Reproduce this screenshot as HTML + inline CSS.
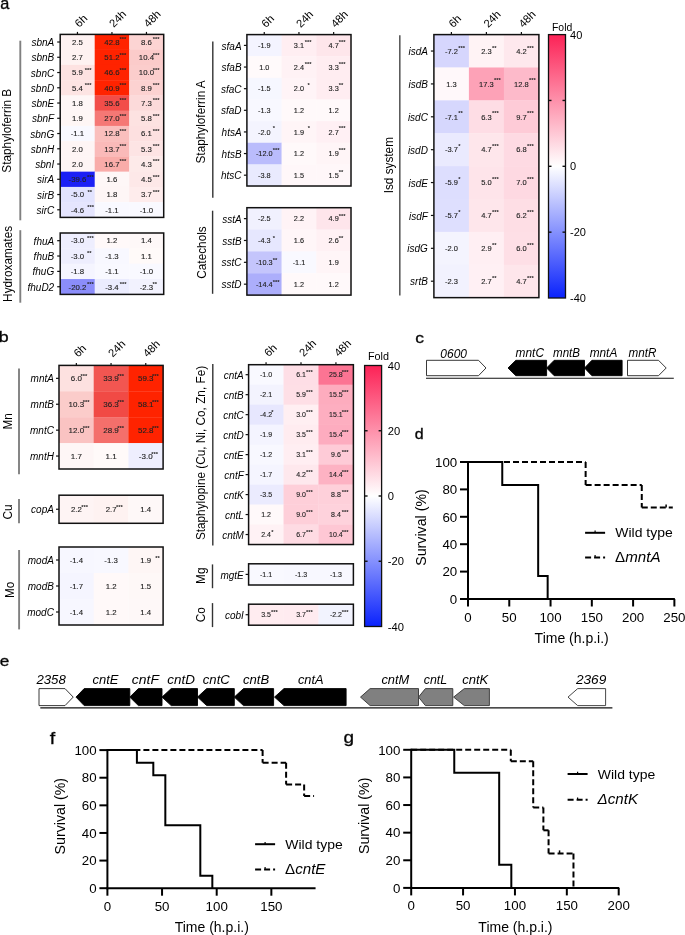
<!DOCTYPE html>
<html><head><meta charset="utf-8"><title>Figure</title>
<style>
html,body{margin:0;padding:0;background:#fff;}
body{width:685px;height:935px;overflow:hidden;}
svg{display:block;will-change:transform;font-family:"Liberation Sans", sans-serif;}
</style></head>
<body>
<svg width="685" height="935" viewBox="0 0 685 935">
<rect x="0" y="0" width="685" height="935" fill="#fff"/>
<text x="0" y="0" font-size="17" transform="translate(0.3 9) scale(0.96 1)" stroke="#1a1a1a" stroke-width="0.4">a</text>
<rect x="60.2" y="34.4" width="34.8" height="15.55" fill="#fef2f2" />
<rect x="94.7" y="34.4" width="34.8" height="15.55" fill="#ff2300" />
<rect x="129.2" y="34.4" width="34.8" height="15.55" fill="#fcd4d3" />
<rect x="60.2" y="49.65" width="34.8" height="15.55" fill="#fef2f1" />
<rect x="94.7" y="49.65" width="34.8" height="15.55" fill="#ff2300" />
<rect x="129.2" y="49.65" width="34.8" height="15.55" fill="#fbcbca" />
<rect x="60.2" y="64.9" width="34.8" height="15.55" fill="#fde2e1" />
<rect x="94.7" y="64.9" width="34.8" height="15.55" fill="#ff2300" />
<rect x="129.2" y="64.9" width="34.8" height="15.55" fill="#fbcdcc" />
<rect x="60.2" y="80.15" width="34.8" height="15.55" fill="#fde4e3" />
<rect x="94.7" y="80.15" width="34.8" height="15.55" fill="#ff2300" />
<rect x="129.2" y="80.15" width="34.8" height="15.55" fill="#fcd2d1" />
<rect x="60.2" y="95.4" width="34.8" height="15.55" fill="#fef6f6" />
<rect x="94.7" y="95.4" width="34.8" height="15.55" fill="#f24d49" />
<rect x="129.2" y="95.4" width="34.8" height="15.55" fill="#fcdada" />
<rect x="60.2" y="110.65" width="34.8" height="15.55" fill="#fef6f5" />
<rect x="94.7" y="110.65" width="34.8" height="15.55" fill="#f57875" />
<rect x="129.2" y="110.65" width="34.8" height="15.55" fill="#fde2e1" />
<rect x="60.2" y="125.9" width="34.8" height="15.55" fill="#f9f9ff" />
<rect x="94.7" y="125.9" width="34.8" height="15.55" fill="#fabfbd" />
<rect x="129.2" y="125.9" width="34.8" height="15.55" fill="#fde0e0" />
<rect x="60.2" y="141.15" width="34.8" height="15.55" fill="#fef5f5" />
<rect x="94.7" y="141.15" width="34.8" height="15.55" fill="#fabab9" />
<rect x="129.2" y="141.15" width="34.8" height="15.55" fill="#fde4e4" />
<rect x="60.2" y="156.4" width="34.8" height="15.55" fill="#fef5f5" />
<rect x="94.7" y="156.4" width="34.8" height="15.55" fill="#f9aca9" />
<rect x="129.2" y="156.4" width="34.8" height="15.55" fill="#fdeae9" />
<rect x="60.2" y="171.65" width="34.8" height="15.55" fill="#1b20f5" />
<rect x="94.7" y="171.65" width="34.8" height="15.55" fill="#fef7f7" />
<rect x="129.2" y="171.65" width="34.8" height="15.55" fill="#fde8e8" />
<rect x="60.2" y="186.9" width="34.8" height="15.55" fill="#e2e3fe" />
<rect x="94.7" y="186.9" width="34.8" height="15.55" fill="#fef6f6" />
<rect x="129.2" y="186.9" width="34.8" height="15.55" fill="#feecec" />
<rect x="60.2" y="202.15" width="34.8" height="15.55" fill="#e5e5fe" />
<rect x="94.7" y="202.15" width="34.8" height="15.55" fill="#f9f9ff" />
<rect x="129.2" y="202.15" width="34.8" height="15.55" fill="#f9f9ff" />
<text x="77.45" y="44.83" font-size="7.8" text-anchor="middle" stroke="#222" stroke-width="0.12" fill="#222">2.5</text>
<text x="111.95" y="44.83" font-size="7.8" text-anchor="middle" stroke="#222" stroke-width="0.12" fill="#222">42.8</text>
<text x="119.45" y="41.25" font-size="5.8" font-weight="bold" fill="#222">***</text>
<text x="146.45" y="44.83" font-size="7.8" text-anchor="middle" stroke="#222" stroke-width="0.12" fill="#222">8.6</text>
<text x="152.75" y="41.25" font-size="5.8" font-weight="bold" fill="#222">***</text>
<text x="54.2" y="46.12" font-size="10" text-anchor="end" font-style="italic">sbnA</text>
<line x1="57.2" y1="42.02" x2="60.2" y2="42.02" stroke="#111" stroke-width="1.2" />
<text x="77.45" y="60.08" font-size="7.8" text-anchor="middle" stroke="#222" stroke-width="0.12" fill="#222">2.7</text>
<text x="111.95" y="60.08" font-size="7.8" text-anchor="middle" stroke="#222" stroke-width="0.12" fill="#222">51.2</text>
<text x="119.45" y="56.5" font-size="5.8" font-weight="bold" fill="#222">***</text>
<text x="146.45" y="60.08" font-size="7.8" text-anchor="middle" stroke="#222" stroke-width="0.12" fill="#222">10.4</text>
<text x="152.75" y="56.5" font-size="5.8" font-weight="bold" fill="#222">***</text>
<text x="54.2" y="61.38" font-size="10" text-anchor="end" font-style="italic">sbnB</text>
<line x1="57.2" y1="57.27" x2="60.2" y2="57.27" stroke="#111" stroke-width="1.2" />
<text x="77.45" y="75.33" font-size="7.8" text-anchor="middle" stroke="#222" stroke-width="0.12" fill="#222">5.9</text>
<text x="84.75" y="71.75" font-size="5.8" font-weight="bold" fill="#222">***</text>
<text x="111.95" y="75.33" font-size="7.8" text-anchor="middle" stroke="#222" stroke-width="0.12" fill="#222">46.6</text>
<text x="119.45" y="71.75" font-size="5.8" font-weight="bold" fill="#222">***</text>
<text x="146.45" y="75.33" font-size="7.8" text-anchor="middle" stroke="#222" stroke-width="0.12" fill="#222">10.0</text>
<text x="152.75" y="71.75" font-size="5.8" font-weight="bold" fill="#222">***</text>
<text x="54.2" y="76.62" font-size="10" text-anchor="end" font-style="italic">sbnC</text>
<line x1="57.2" y1="72.53" x2="60.2" y2="72.53" stroke="#111" stroke-width="1.2" />
<text x="77.45" y="90.58" font-size="7.8" text-anchor="middle" stroke="#222" stroke-width="0.12" fill="#222">5.4</text>
<text x="84.75" y="87" font-size="5.8" font-weight="bold" fill="#222">***</text>
<text x="111.95" y="90.58" font-size="7.8" text-anchor="middle" stroke="#222" stroke-width="0.12" fill="#222">40.9</text>
<text x="119.45" y="87" font-size="5.8" font-weight="bold" fill="#222">***</text>
<text x="146.45" y="90.58" font-size="7.8" text-anchor="middle" stroke="#222" stroke-width="0.12" fill="#222">8.9</text>
<text x="152.75" y="87" font-size="5.8" font-weight="bold" fill="#222">***</text>
<text x="54.2" y="91.88" font-size="10" text-anchor="end" font-style="italic">sbnD</text>
<line x1="57.2" y1="87.78" x2="60.2" y2="87.78" stroke="#111" stroke-width="1.2" />
<text x="77.45" y="105.83" font-size="7.8" text-anchor="middle" stroke="#222" stroke-width="0.12" fill="#222">1.8</text>
<text x="111.95" y="105.83" font-size="7.8" text-anchor="middle" stroke="#222" stroke-width="0.12" fill="#222">35.6</text>
<text x="119.45" y="102.25" font-size="5.8" font-weight="bold" fill="#222">***</text>
<text x="146.45" y="105.83" font-size="7.8" text-anchor="middle" stroke="#222" stroke-width="0.12" fill="#222">7.3</text>
<text x="152.75" y="102.25" font-size="5.8" font-weight="bold" fill="#222">***</text>
<text x="54.2" y="107.12" font-size="10" text-anchor="end" font-style="italic">sbnE</text>
<line x1="57.2" y1="103.03" x2="60.2" y2="103.03" stroke="#111" stroke-width="1.2" />
<text x="77.45" y="121.08" font-size="7.8" text-anchor="middle" stroke="#222" stroke-width="0.12" fill="#222">1.9</text>
<text x="111.95" y="121.08" font-size="7.8" text-anchor="middle" stroke="#222" stroke-width="0.12" fill="#222">27.0</text>
<text x="119.45" y="117.5" font-size="5.8" font-weight="bold" fill="#222">***</text>
<text x="146.45" y="121.08" font-size="7.8" text-anchor="middle" stroke="#222" stroke-width="0.12" fill="#222">5.8</text>
<text x="152.75" y="117.5" font-size="5.8" font-weight="bold" fill="#222">***</text>
<text x="54.2" y="122.38" font-size="10" text-anchor="end" font-style="italic">sbnF</text>
<line x1="57.2" y1="118.28" x2="60.2" y2="118.28" stroke="#111" stroke-width="1.2" />
<text x="77.45" y="136.33" font-size="7.8" text-anchor="middle" stroke="#222" stroke-width="0.12" fill="#222">-1.1</text>
<text x="111.95" y="136.33" font-size="7.8" text-anchor="middle" stroke="#222" stroke-width="0.12" fill="#222">12.8</text>
<text x="119.45" y="132.75" font-size="5.8" font-weight="bold" fill="#222">***</text>
<text x="146.45" y="136.33" font-size="7.8" text-anchor="middle" stroke="#222" stroke-width="0.12" fill="#222">6.1</text>
<text x="152.75" y="132.75" font-size="5.8" font-weight="bold" fill="#222">***</text>
<text x="54.2" y="137.62" font-size="10" text-anchor="end" font-style="italic">sbnG</text>
<line x1="57.2" y1="133.53" x2="60.2" y2="133.53" stroke="#111" stroke-width="1.2" />
<text x="77.45" y="151.58" font-size="7.8" text-anchor="middle" stroke="#222" stroke-width="0.12" fill="#222">2.0</text>
<text x="111.95" y="151.58" font-size="7.8" text-anchor="middle" stroke="#222" stroke-width="0.12" fill="#222">13.7</text>
<text x="119.45" y="148" font-size="5.8" font-weight="bold" fill="#222">***</text>
<text x="146.45" y="151.58" font-size="7.8" text-anchor="middle" stroke="#222" stroke-width="0.12" fill="#222">5.3</text>
<text x="152.75" y="148" font-size="5.8" font-weight="bold" fill="#222">***</text>
<text x="54.2" y="152.88" font-size="10" text-anchor="end" font-style="italic">sbnH</text>
<line x1="57.2" y1="148.78" x2="60.2" y2="148.78" stroke="#111" stroke-width="1.2" />
<text x="77.45" y="166.83" font-size="7.8" text-anchor="middle" stroke="#222" stroke-width="0.12" fill="#222">2.0</text>
<text x="111.95" y="166.83" font-size="7.8" text-anchor="middle" stroke="#222" stroke-width="0.12" fill="#222">16.7</text>
<text x="119.45" y="163.25" font-size="5.8" font-weight="bold" fill="#222">***</text>
<text x="146.45" y="166.83" font-size="7.8" text-anchor="middle" stroke="#222" stroke-width="0.12" fill="#222">4.3</text>
<text x="152.75" y="163.25" font-size="5.8" font-weight="bold" fill="#222">***</text>
<text x="54.2" y="168.12" font-size="10" text-anchor="end" font-style="italic">sbnI</text>
<line x1="57.2" y1="164.03" x2="60.2" y2="164.03" stroke="#111" stroke-width="1.2" />
<text x="77.45" y="182.08" font-size="7.8" text-anchor="middle" stroke="#222" stroke-width="0.12" fill="#222">-39.6</text>
<text x="86.95" y="178.5" font-size="5.8" font-weight="bold" fill="#222">***</text>
<text x="111.95" y="182.08" font-size="7.8" text-anchor="middle" stroke="#222" stroke-width="0.12" fill="#222">1.6</text>
<text x="146.45" y="182.08" font-size="7.8" text-anchor="middle" stroke="#222" stroke-width="0.12" fill="#222">4.5</text>
<text x="152.75" y="178.5" font-size="5.8" font-weight="bold" fill="#222">***</text>
<text x="54.2" y="183.38" font-size="10" text-anchor="end" font-style="italic">sirA</text>
<line x1="57.2" y1="179.28" x2="60.2" y2="179.28" stroke="#111" stroke-width="1.2" />
<text x="77.45" y="197.33" font-size="7.8" text-anchor="middle" stroke="#222" stroke-width="0.12" fill="#222">-5.0</text>
<text x="87.45" y="193.75" font-size="5.8" font-weight="bold" fill="#222">**</text>
<text x="111.95" y="197.33" font-size="7.8" text-anchor="middle" stroke="#222" stroke-width="0.12" fill="#222">1.8</text>
<text x="146.45" y="197.33" font-size="7.8" text-anchor="middle" stroke="#222" stroke-width="0.12" fill="#222">3.7</text>
<text x="152.75" y="193.75" font-size="5.8" font-weight="bold" fill="#222">***</text>
<text x="54.2" y="198.62" font-size="10" text-anchor="end" font-style="italic">sirB</text>
<line x1="57.2" y1="194.53" x2="60.2" y2="194.53" stroke="#111" stroke-width="1.2" />
<text x="77.45" y="212.58" font-size="7.8" text-anchor="middle" stroke="#222" stroke-width="0.12" fill="#222">-4.6</text>
<text x="87.25" y="209" font-size="5.8" font-weight="bold" fill="#222">***</text>
<text x="111.95" y="212.58" font-size="7.8" text-anchor="middle" stroke="#222" stroke-width="0.12" fill="#222">-1.1</text>
<text x="146.45" y="212.58" font-size="7.8" text-anchor="middle" stroke="#222" stroke-width="0.12" fill="#222">-1.0</text>
<text x="54.2" y="213.88" font-size="10" text-anchor="end" font-style="italic">sirC</text>
<line x1="57.2" y1="209.78" x2="60.2" y2="209.78" stroke="#111" stroke-width="1.2" />
<rect x="60.2" y="34.4" width="103.5" height="183" fill="none" stroke="#111" stroke-width="1.5" />
<line x1="77.45" y1="31.9" x2="77.45" y2="34.4" stroke="#111" stroke-width="1.2" />
<text x="79.25" y="28" font-size="11.2" transform="rotate(-45 79.25 28)">6h</text>
<line x1="111.95" y1="31.9" x2="111.95" y2="34.4" stroke="#111" stroke-width="1.2" />
<text x="113.75" y="28" font-size="11.2" transform="rotate(-45 113.75 28)">24h</text>
<line x1="146.45" y1="31.9" x2="146.45" y2="34.4" stroke="#111" stroke-width="1.2" />
<text x="148.25" y="28" font-size="11.2" transform="rotate(-45 148.25 28)">48h</text>
<line x1="20.3" y1="40.7" x2="20.3" y2="220.3" stroke="#808080" stroke-width="1.9" />
<text x="0" y="0" font-size="11.8" transform="translate(11.3 130.7) scale(1.08 1) rotate(-90)" text-anchor="middle">Staphyloferrin B</text>
<rect x="60.2" y="233" width="34.8" height="15.65" fill="#eeeefe" />
<rect x="94.7" y="233" width="34.8" height="15.65" fill="#fff9f9" />
<rect x="129.2" y="233" width="34.8" height="15.65" fill="#fef8f8" />
<rect x="60.2" y="248.35" width="34.8" height="15.65" fill="#eeeefe" />
<rect x="94.7" y="248.35" width="34.8" height="15.65" fill="#f8f8ff" />
<rect x="129.2" y="248.35" width="34.8" height="15.65" fill="#fffaf9" />
<rect x="60.2" y="263.7" width="34.8" height="15.65" fill="#f5f5ff" />
<rect x="94.7" y="263.7" width="34.8" height="15.65" fill="#f9f9ff" />
<rect x="129.2" y="263.7" width="34.8" height="15.65" fill="#f9f9ff" />
<rect x="60.2" y="279.05" width="34.8" height="15.65" fill="#8b8dfa" />
<rect x="94.7" y="279.05" width="34.8" height="15.65" fill="#ebecfe" />
<rect x="129.2" y="279.05" width="34.8" height="15.65" fill="#f2f2fe" />
<text x="77.45" y="243.48" font-size="7.8" text-anchor="middle" stroke="#222" stroke-width="0.12" fill="#222">-3.0</text>
<text x="86.95" y="239.9" font-size="5.8" font-weight="bold" fill="#222">***</text>
<text x="111.95" y="243.48" font-size="7.8" text-anchor="middle" stroke="#222" stroke-width="0.12" fill="#222">1.2</text>
<text x="146.45" y="243.48" font-size="7.8" text-anchor="middle" stroke="#222" stroke-width="0.12" fill="#222">1.4</text>
<text x="54.2" y="244.78" font-size="10" text-anchor="end" font-style="italic">fhuA</text>
<line x1="57.2" y1="240.68" x2="60.2" y2="240.68" stroke="#111" stroke-width="1.2" />
<text x="77.45" y="258.83" font-size="7.8" text-anchor="middle" stroke="#222" stroke-width="0.12" fill="#222">-3.0</text>
<text x="86.95" y="255.25" font-size="5.8" font-weight="bold" fill="#222">**</text>
<text x="111.95" y="258.83" font-size="7.8" text-anchor="middle" stroke="#222" stroke-width="0.12" fill="#222">-1.3</text>
<text x="146.45" y="258.83" font-size="7.8" text-anchor="middle" stroke="#222" stroke-width="0.12" fill="#222">1.1</text>
<text x="54.2" y="260.12" font-size="10" text-anchor="end" font-style="italic">fhuB</text>
<line x1="57.2" y1="256.02" x2="60.2" y2="256.02" stroke="#111" stroke-width="1.2" />
<text x="77.45" y="274.18" font-size="7.8" text-anchor="middle" stroke="#222" stroke-width="0.12" fill="#222">-1.8</text>
<text x="111.95" y="274.18" font-size="7.8" text-anchor="middle" stroke="#222" stroke-width="0.12" fill="#222">-1.1</text>
<text x="146.45" y="274.18" font-size="7.8" text-anchor="middle" stroke="#222" stroke-width="0.12" fill="#222">-1.0</text>
<text x="54.2" y="275.48" font-size="10" text-anchor="end" font-style="italic">fhuG</text>
<line x1="57.2" y1="271.38" x2="60.2" y2="271.38" stroke="#111" stroke-width="1.2" />
<text x="77.45" y="289.53" font-size="7.8" text-anchor="middle" stroke="#222" stroke-width="0.12" fill="#222">-20.2</text>
<text x="86.95" y="285.95" font-size="5.8" font-weight="bold" fill="#222">***</text>
<text x="111.95" y="289.53" font-size="7.8" text-anchor="middle" stroke="#222" stroke-width="0.12" fill="#222">-3.4</text>
<text x="119.75" y="285.95" font-size="5.8" font-weight="bold" fill="#222">***</text>
<text x="146.45" y="289.53" font-size="7.8" text-anchor="middle" stroke="#222" stroke-width="0.12" fill="#222">-2.3</text>
<text x="152.45" y="285.95" font-size="5.8" font-weight="bold" fill="#222">**</text>
<text x="54.2" y="290.83" font-size="10" text-anchor="end" font-style="italic">fhuD2</text>
<line x1="57.2" y1="286.73" x2="60.2" y2="286.73" stroke="#111" stroke-width="1.2" />
<rect x="60.2" y="233" width="103.5" height="61.4" fill="none" stroke="#111" stroke-width="1.5" />
<line x1="20.3" y1="230.2" x2="20.3" y2="302.7" stroke="#808080" stroke-width="1.9" />
<text x="0" y="0" font-size="11.8" transform="translate(12.1 263.9) scale(1.08 1) rotate(-90)" text-anchor="middle">Hydroxamates</text>
<rect x="246.9" y="34.6" width="35" height="21.93" fill="#f4f4ff" />
<rect x="281.6" y="34.6" width="35" height="21.93" fill="#ffeef2" />
<rect x="316.3" y="34.6" width="35" height="21.93" fill="#fee6eb" />
<rect x="246.9" y="56.23" width="35" height="21.93" fill="#fffafb" />
<rect x="281.6" y="56.23" width="35" height="21.93" fill="#fff2f5" />
<rect x="316.3" y="56.23" width="35" height="21.93" fill="#ffedf1" />
<rect x="246.9" y="77.86" width="35" height="21.93" fill="#f6f7ff" />
<rect x="281.6" y="77.86" width="35" height="21.93" fill="#fff4f7" />
<rect x="316.3" y="77.86" width="35" height="21.93" fill="#ffedf1" />
<rect x="246.9" y="99.49" width="35" height="21.93" fill="#f8f8ff" />
<rect x="281.6" y="99.49" width="35" height="21.93" fill="#fff9fa" />
<rect x="316.3" y="99.49" width="35" height="21.93" fill="#fff9fa" />
<rect x="246.9" y="121.12" width="35" height="21.93" fill="#f4f4fe" />
<rect x="281.6" y="121.12" width="35" height="21.93" fill="#fff5f7" />
<rect x="316.3" y="121.12" width="35" height="21.93" fill="#fff0f4" />
<rect x="246.9" y="142.75" width="35" height="21.93" fill="#babcfc" />
<rect x="281.6" y="142.75" width="35" height="21.93" fill="#fff9fa" />
<rect x="316.3" y="142.75" width="35" height="21.93" fill="#fff5f7" />
<rect x="246.9" y="164.38" width="35" height="21.93" fill="#e9eafe" />
<rect x="281.6" y="164.38" width="35" height="21.93" fill="#fff7f9" />
<rect x="316.3" y="164.38" width="35" height="21.93" fill="#fff7f9" />
<text x="264.25" y="48.04" font-size="7.3" text-anchor="middle" stroke="#222" stroke-width="0.12" fill="#222">-1.9</text>
<text x="298.95" y="48.04" font-size="7.3" text-anchor="middle" stroke="#222" stroke-width="0.12" fill="#222">3.1</text>
<text x="304.85" y="43.91" font-size="5.8" font-weight="bold" fill="#222">***</text>
<text x="333.65" y="48.04" font-size="7.3" text-anchor="middle" stroke="#222" stroke-width="0.12" fill="#222">4.7</text>
<text x="338.65" y="43.91" font-size="5.8" font-weight="bold" fill="#222">***</text>
<text x="241.6" y="49.52" font-size="10" text-anchor="end" font-style="italic">sfaA</text>
<line x1="243.9" y1="45.41" x2="246.9" y2="45.41" stroke="#111" stroke-width="1.2" />
<text x="264.25" y="69.67" font-size="7.3" text-anchor="middle" stroke="#222" stroke-width="0.12" fill="#222">1.0</text>
<text x="298.95" y="69.67" font-size="7.3" text-anchor="middle" stroke="#222" stroke-width="0.12" fill="#222">2.4</text>
<text x="304.85" y="65.54" font-size="5.8" font-weight="bold" fill="#222">***</text>
<text x="333.65" y="69.67" font-size="7.3" text-anchor="middle" stroke="#222" stroke-width="0.12" fill="#222">3.3</text>
<text x="338.65" y="65.54" font-size="5.8" font-weight="bold" fill="#222">***</text>
<text x="241.6" y="71.14" font-size="10" text-anchor="end" font-style="italic">sfaB</text>
<line x1="243.9" y1="67.05" x2="246.9" y2="67.05" stroke="#111" stroke-width="1.2" />
<text x="264.25" y="91.3" font-size="7.3" text-anchor="middle" stroke="#222" stroke-width="0.12" fill="#222">-1.5</text>
<text x="298.95" y="91.3" font-size="7.3" text-anchor="middle" stroke="#222" stroke-width="0.12" fill="#222">2.0</text>
<text x="307.45" y="87.17" font-size="5.8" font-weight="bold" fill="#222">*</text>
<text x="333.65" y="91.3" font-size="7.3" text-anchor="middle" stroke="#222" stroke-width="0.12" fill="#222">3.3</text>
<text x="338.65" y="87.17" font-size="5.8" font-weight="bold" fill="#222">**</text>
<text x="241.6" y="92.77" font-size="10" text-anchor="end" font-style="italic">sfaC</text>
<line x1="243.9" y1="88.67" x2="246.9" y2="88.67" stroke="#111" stroke-width="1.2" />
<text x="264.25" y="112.93" font-size="7.3" text-anchor="middle" stroke="#222" stroke-width="0.12" fill="#222">-1.3</text>
<text x="298.95" y="112.93" font-size="7.3" text-anchor="middle" stroke="#222" stroke-width="0.12" fill="#222">1.2</text>
<text x="333.65" y="112.93" font-size="7.3" text-anchor="middle" stroke="#222" stroke-width="0.12" fill="#222">1.2</text>
<text x="241.6" y="114.41" font-size="10" text-anchor="end" font-style="italic">sfaD</text>
<line x1="243.9" y1="110.31" x2="246.9" y2="110.31" stroke="#111" stroke-width="1.2" />
<text x="264.25" y="134.56" font-size="7.3" text-anchor="middle" stroke="#222" stroke-width="0.12" fill="#222">-2.0</text>
<text x="272.65" y="130.43" font-size="5.8" font-weight="bold" fill="#222">*</text>
<text x="298.95" y="134.56" font-size="7.3" text-anchor="middle" stroke="#222" stroke-width="0.12" fill="#222">1.9</text>
<text x="307.65" y="130.43" font-size="5.8" font-weight="bold" fill="#222">*</text>
<text x="333.65" y="134.56" font-size="7.3" text-anchor="middle" stroke="#222" stroke-width="0.12" fill="#222">2.7</text>
<text x="338.65" y="130.43" font-size="5.8" font-weight="bold" fill="#222">***</text>
<text x="241.6" y="136.03" font-size="10" text-anchor="end" font-style="italic">htsA</text>
<line x1="243.9" y1="131.94" x2="246.9" y2="131.94" stroke="#111" stroke-width="1.2" />
<text x="264.25" y="156.19" font-size="7.3" text-anchor="middle" stroke="#222" stroke-width="0.12" fill="#222">-12.0</text>
<text x="272.65" y="152.06" font-size="5.8" font-weight="bold" fill="#222">***</text>
<text x="298.95" y="156.19" font-size="7.3" text-anchor="middle" stroke="#222" stroke-width="0.12" fill="#222">1.2</text>
<text x="333.65" y="156.19" font-size="7.3" text-anchor="middle" stroke="#222" stroke-width="0.12" fill="#222">1.9</text>
<text x="338.65" y="152.06" font-size="5.8" font-weight="bold" fill="#222">***</text>
<text x="241.6" y="157.66" font-size="10" text-anchor="end" font-style="italic">htsB</text>
<line x1="243.9" y1="153.56" x2="246.9" y2="153.56" stroke="#111" stroke-width="1.2" />
<text x="264.25" y="177.82" font-size="7.3" text-anchor="middle" stroke="#222" stroke-width="0.12" fill="#222">-3.8</text>
<text x="298.95" y="177.82" font-size="7.3" text-anchor="middle" stroke="#222" stroke-width="0.12" fill="#222">1.5</text>
<text x="333.65" y="177.82" font-size="7.3" text-anchor="middle" stroke="#222" stroke-width="0.12" fill="#222">1.5</text>
<text x="338.65" y="173.69" font-size="5.8" font-weight="bold" fill="#222">**</text>
<text x="241.6" y="179.29" font-size="10" text-anchor="end" font-style="italic">htsC</text>
<line x1="243.9" y1="175.19" x2="246.9" y2="175.19" stroke="#111" stroke-width="1.2" />
<rect x="246.9" y="34.6" width="104.1" height="151.41" fill="none" stroke="#111" stroke-width="1.5" />
<line x1="264.25" y1="32.1" x2="264.25" y2="34.6" stroke="#111" stroke-width="1.2" />
<text x="266.05" y="28.2" font-size="11.2" transform="rotate(-45 266.05 28.2)">6h</text>
<line x1="298.95" y1="32.1" x2="298.95" y2="34.6" stroke="#111" stroke-width="1.2" />
<text x="300.75" y="28.2" font-size="11.2" transform="rotate(-45 300.75 28.2)">24h</text>
<line x1="333.65" y1="32.1" x2="333.65" y2="34.6" stroke="#111" stroke-width="1.2" />
<text x="335.45" y="28.2" font-size="11.2" transform="rotate(-45 335.45 28.2)">48h</text>
<line x1="212.8" y1="41.6" x2="212.8" y2="197.7" stroke="#333" stroke-width="1.4" />
<text x="0" y="0" font-size="11.8" transform="translate(204.9 121.9) scale(1.08 1) rotate(-90)" text-anchor="middle">Staphyloferrin A</text>
<rect x="246.9" y="207.7" width="35" height="22.15" fill="#f1f1fe" />
<rect x="281.6" y="207.7" width="35" height="22.15" fill="#fff3f6" />
<rect x="316.3" y="207.7" width="35" height="22.15" fill="#fee5eb" />
<rect x="246.9" y="229.55" width="35" height="22.15" fill="#e6e7fe" />
<rect x="281.6" y="229.55" width="35" height="22.15" fill="#fff6f8" />
<rect x="316.3" y="229.55" width="35" height="22.15" fill="#fff1f4" />
<rect x="246.9" y="251.4" width="35" height="22.15" fill="#c4c5fc" />
<rect x="281.6" y="251.4" width="35" height="22.15" fill="#f9f9ff" />
<rect x="316.3" y="251.4" width="35" height="22.15" fill="#fff5f7" />
<rect x="246.9" y="273.25" width="35" height="22.15" fill="#acaefb" />
<rect x="281.6" y="273.25" width="35" height="22.15" fill="#fff9fa" />
<rect x="316.3" y="273.25" width="35" height="22.15" fill="#fff9fa" />
<text x="264.25" y="221.25" font-size="7.3" text-anchor="middle" stroke="#222" stroke-width="0.12" fill="#222">-2.5</text>
<text x="298.95" y="221.25" font-size="7.3" text-anchor="middle" stroke="#222" stroke-width="0.12" fill="#222">2.2</text>
<text x="333.65" y="221.25" font-size="7.3" text-anchor="middle" stroke="#222" stroke-width="0.12" fill="#222">4.9</text>
<text x="338.65" y="218.02" font-size="5.8" font-weight="bold" fill="#222">***</text>
<text x="241.6" y="222.72" font-size="10" text-anchor="end" font-style="italic">sstA</text>
<line x1="243.9" y1="218.62" x2="246.9" y2="218.62" stroke="#111" stroke-width="1.2" />
<text x="264.25" y="243.1" font-size="7.3" text-anchor="middle" stroke="#222" stroke-width="0.12" fill="#222">-4.3</text>
<text x="272.75" y="239.87" font-size="5.8" font-weight="bold" fill="#222">*</text>
<text x="298.95" y="243.1" font-size="7.3" text-anchor="middle" stroke="#222" stroke-width="0.12" fill="#222">1.6</text>
<text x="333.65" y="243.1" font-size="7.3" text-anchor="middle" stroke="#222" stroke-width="0.12" fill="#222">2.6</text>
<text x="338.65" y="239.87" font-size="5.8" font-weight="bold" fill="#222">**</text>
<text x="241.6" y="244.57" font-size="10" text-anchor="end" font-style="italic">sstB</text>
<line x1="243.9" y1="240.47" x2="246.9" y2="240.47" stroke="#111" stroke-width="1.2" />
<text x="264.25" y="264.95" font-size="7.3" text-anchor="middle" stroke="#222" stroke-width="0.12" fill="#222">-10.3</text>
<text x="272.75" y="261.72" font-size="5.8" font-weight="bold" fill="#222">**</text>
<text x="298.95" y="264.95" font-size="7.3" text-anchor="middle" stroke="#222" stroke-width="0.12" fill="#222">-1.1</text>
<text x="333.65" y="264.95" font-size="7.3" text-anchor="middle" stroke="#222" stroke-width="0.12" fill="#222">1.9</text>
<text x="241.6" y="266.43" font-size="10" text-anchor="end" font-style="italic">sstC</text>
<line x1="243.9" y1="262.32" x2="246.9" y2="262.32" stroke="#111" stroke-width="1.2" />
<text x="264.25" y="286.8" font-size="7.3" text-anchor="middle" stroke="#222" stroke-width="0.12" fill="#222">-14.4</text>
<text x="272.75" y="283.57" font-size="5.8" font-weight="bold" fill="#222">***</text>
<text x="298.95" y="286.8" font-size="7.3" text-anchor="middle" stroke="#222" stroke-width="0.12" fill="#222">1.2</text>
<text x="333.65" y="286.8" font-size="7.3" text-anchor="middle" stroke="#222" stroke-width="0.12" fill="#222">1.2</text>
<text x="241.6" y="288.28" font-size="10" text-anchor="end" font-style="italic">sstD</text>
<line x1="243.9" y1="284.18" x2="246.9" y2="284.18" stroke="#111" stroke-width="1.2" />
<rect x="246.9" y="207.7" width="104.1" height="87.4" fill="none" stroke="#111" stroke-width="1.5" />
<line x1="212.6" y1="210.7" x2="212.6" y2="293.8" stroke="#333" stroke-width="1.4" />
<text x="0" y="0" font-size="11.8" transform="translate(206 252.5) scale(1.08 1) rotate(-90)" text-anchor="middle">Catechols</text>
<rect x="433.9" y="34.6" width="35.3" height="33.18" fill="#d6d6fd" />
<rect x="468.9" y="34.6" width="35.3" height="33.18" fill="#fff3f5" />
<rect x="503.9" y="34.6" width="35.3" height="33.18" fill="#fee8ed" />
<rect x="433.9" y="67.48" width="35.3" height="33.18" fill="#fff8fa" />
<rect x="468.9" y="67.48" width="35.3" height="33.18" fill="#fda2b7" />
<rect x="503.9" y="67.48" width="35.3" height="33.18" fill="#fdbaca" />
<rect x="433.9" y="100.36" width="35.3" height="33.18" fill="#d6d7fd" />
<rect x="468.9" y="100.36" width="35.3" height="33.18" fill="#fedde5" />
<rect x="503.9" y="100.36" width="35.3" height="33.18" fill="#fecbd7" />
<rect x="433.9" y="133.24" width="35.3" height="33.18" fill="#eaeafe" />
<rect x="468.9" y="133.24" width="35.3" height="33.18" fill="#fee6eb" />
<rect x="503.9" y="133.24" width="35.3" height="33.18" fill="#fedae3" />
<rect x="433.9" y="166.12" width="35.3" height="33.18" fill="#dddefe" />
<rect x="468.9" y="166.12" width="35.3" height="33.18" fill="#fee4ea" />
<rect x="503.9" y="166.12" width="35.3" height="33.18" fill="#fed9e2" />
<rect x="433.9" y="199" width="35.3" height="33.18" fill="#dedffe" />
<rect x="468.9" y="199" width="35.3" height="33.18" fill="#fee6eb" />
<rect x="503.9" y="199" width="35.3" height="33.18" fill="#fedee5" />
<rect x="433.9" y="231.88" width="35.3" height="33.18" fill="#f4f4fe" />
<rect x="468.9" y="231.88" width="35.3" height="33.18" fill="#ffeff3" />
<rect x="503.9" y="231.88" width="35.3" height="33.18" fill="#fedfe6" />
<rect x="433.9" y="264.76" width="35.3" height="33.18" fill="#f2f2fe" />
<rect x="468.9" y="264.76" width="35.3" height="33.18" fill="#fff0f4" />
<rect x="503.9" y="264.76" width="35.3" height="33.18" fill="#fee6eb" />
<text x="451.4" y="53.74" font-size="7.5" text-anchor="middle" stroke="#222" stroke-width="0.12" fill="#222">-7.2</text>
<text x="458.26" y="49.57" font-size="5.8" font-weight="bold" fill="#222">***</text>
<text x="486.4" y="53.74" font-size="7.5" text-anchor="middle" stroke="#222" stroke-width="0.12" fill="#222">2.3</text>
<text x="492.01" y="49.57" font-size="5.8" font-weight="bold" fill="#222">**</text>
<text x="521.4" y="53.74" font-size="7.5" text-anchor="middle" stroke="#222" stroke-width="0.12" fill="#222">4.2</text>
<text x="527.01" y="49.57" font-size="5.8" font-weight="bold" fill="#222">***</text>
<text x="427.9" y="55.14" font-size="10" text-anchor="end" font-style="italic">isdA</text>
<line x1="430.9" y1="51.04" x2="433.9" y2="51.04" stroke="#111" stroke-width="1.2" />
<text x="451.4" y="86.62" font-size="7.5" text-anchor="middle" stroke="#222" stroke-width="0.12" fill="#222">1.3</text>
<text x="486.4" y="86.62" font-size="7.5" text-anchor="middle" stroke="#222" stroke-width="0.12" fill="#222">17.3</text>
<text x="494.1" y="82.45" font-size="5.8" font-weight="bold" fill="#222">***</text>
<text x="521.4" y="86.62" font-size="7.5" text-anchor="middle" stroke="#222" stroke-width="0.12" fill="#222">12.8</text>
<text x="529.1" y="82.45" font-size="5.8" font-weight="bold" fill="#222">***</text>
<text x="427.9" y="88.02" font-size="10" text-anchor="end" font-style="italic">isdB</text>
<line x1="430.9" y1="83.92" x2="433.9" y2="83.92" stroke="#111" stroke-width="1.2" />
<text x="451.4" y="119.5" font-size="7.5" text-anchor="middle" stroke="#222" stroke-width="0.12" fill="#222">-7.1</text>
<text x="458.26" y="115.33" font-size="5.8" font-weight="bold" fill="#222">**</text>
<text x="486.4" y="119.5" font-size="7.5" text-anchor="middle" stroke="#222" stroke-width="0.12" fill="#222">6.3</text>
<text x="492.01" y="115.33" font-size="5.8" font-weight="bold" fill="#222">***</text>
<text x="521.4" y="119.5" font-size="7.5" text-anchor="middle" stroke="#222" stroke-width="0.12" fill="#222">9.7</text>
<text x="527.01" y="115.33" font-size="5.8" font-weight="bold" fill="#222">***</text>
<text x="427.9" y="120.9" font-size="10" text-anchor="end" font-style="italic">isdC</text>
<line x1="430.9" y1="116.8" x2="433.9" y2="116.8" stroke="#111" stroke-width="1.2" />
<text x="451.4" y="152.38" font-size="7.5" text-anchor="middle" stroke="#222" stroke-width="0.12" fill="#222">-3.7</text>
<text x="458.26" y="148.21" font-size="5.8" font-weight="bold" fill="#222">*</text>
<text x="486.4" y="152.38" font-size="7.5" text-anchor="middle" stroke="#222" stroke-width="0.12" fill="#222">4.7</text>
<text x="492.01" y="148.21" font-size="5.8" font-weight="bold" fill="#222">***</text>
<text x="521.4" y="152.38" font-size="7.5" text-anchor="middle" stroke="#222" stroke-width="0.12" fill="#222">6.8</text>
<text x="527.01" y="148.21" font-size="5.8" font-weight="bold" fill="#222">***</text>
<text x="427.9" y="153.78" font-size="10" text-anchor="end" font-style="italic">isdD</text>
<line x1="430.9" y1="149.68" x2="433.9" y2="149.68" stroke="#111" stroke-width="1.2" />
<text x="451.4" y="185.26" font-size="7.5" text-anchor="middle" stroke="#222" stroke-width="0.12" fill="#222">-5.9</text>
<text x="458.26" y="181.09" font-size="5.8" font-weight="bold" fill="#222">*</text>
<text x="486.4" y="185.26" font-size="7.5" text-anchor="middle" stroke="#222" stroke-width="0.12" fill="#222">5.0</text>
<text x="492.01" y="181.09" font-size="5.8" font-weight="bold" fill="#222">***</text>
<text x="521.4" y="185.26" font-size="7.5" text-anchor="middle" stroke="#222" stroke-width="0.12" fill="#222">7.0</text>
<text x="527.01" y="181.09" font-size="5.8" font-weight="bold" fill="#222">***</text>
<text x="427.9" y="186.66" font-size="10" text-anchor="end" font-style="italic">isdE</text>
<line x1="430.9" y1="182.56" x2="433.9" y2="182.56" stroke="#111" stroke-width="1.2" />
<text x="451.4" y="218.14" font-size="7.5" text-anchor="middle" stroke="#222" stroke-width="0.12" fill="#222">-5.7</text>
<text x="458.26" y="213.97" font-size="5.8" font-weight="bold" fill="#222">*</text>
<text x="486.4" y="218.14" font-size="7.5" text-anchor="middle" stroke="#222" stroke-width="0.12" fill="#222">4.7</text>
<text x="492.01" y="213.97" font-size="5.8" font-weight="bold" fill="#222">***</text>
<text x="521.4" y="218.14" font-size="7.5" text-anchor="middle" stroke="#222" stroke-width="0.12" fill="#222">6.2</text>
<text x="527.01" y="213.97" font-size="5.8" font-weight="bold" fill="#222">***</text>
<text x="427.9" y="219.54" font-size="10" text-anchor="end" font-style="italic">isdF</text>
<line x1="430.9" y1="215.44" x2="433.9" y2="215.44" stroke="#111" stroke-width="1.2" />
<text x="451.4" y="251.02" font-size="7.5" text-anchor="middle" stroke="#222" stroke-width="0.12" fill="#222">-2.0</text>
<text x="486.4" y="251.02" font-size="7.5" text-anchor="middle" stroke="#222" stroke-width="0.12" fill="#222">2.9</text>
<text x="492.01" y="246.85" font-size="5.8" font-weight="bold" fill="#222">**</text>
<text x="521.4" y="251.02" font-size="7.5" text-anchor="middle" stroke="#222" stroke-width="0.12" fill="#222">6.0</text>
<text x="527.01" y="246.85" font-size="5.8" font-weight="bold" fill="#222">***</text>
<text x="427.9" y="252.42" font-size="10" text-anchor="end" font-style="italic">isdG</text>
<line x1="430.9" y1="248.32" x2="433.9" y2="248.32" stroke="#111" stroke-width="1.2" />
<text x="451.4" y="283.9" font-size="7.5" text-anchor="middle" stroke="#222" stroke-width="0.12" fill="#222">-2.3</text>
<text x="486.4" y="283.9" font-size="7.5" text-anchor="middle" stroke="#222" stroke-width="0.12" fill="#222">2.7</text>
<text x="492.01" y="279.73" font-size="5.8" font-weight="bold" fill="#222">**</text>
<text x="521.4" y="283.9" font-size="7.5" text-anchor="middle" stroke="#222" stroke-width="0.12" fill="#222">4.7</text>
<text x="527.01" y="279.73" font-size="5.8" font-weight="bold" fill="#222">***</text>
<text x="427.9" y="285.3" font-size="10" text-anchor="end" font-style="italic">srtB</text>
<line x1="430.9" y1="281.2" x2="433.9" y2="281.2" stroke="#111" stroke-width="1.2" />
<rect x="433.9" y="34.6" width="105" height="263.04" fill="none" stroke="#111" stroke-width="1.5" />
<line x1="451.4" y1="32.1" x2="451.4" y2="34.6" stroke="#111" stroke-width="1.2" />
<text x="453.2" y="28.2" font-size="11.2" transform="rotate(-45 453.2 28.2)">6h</text>
<line x1="486.4" y1="32.1" x2="486.4" y2="34.6" stroke="#111" stroke-width="1.2" />
<text x="488.2" y="28.2" font-size="11.2" transform="rotate(-45 488.2 28.2)">24h</text>
<line x1="521.4" y1="32.1" x2="521.4" y2="34.6" stroke="#111" stroke-width="1.2" />
<text x="523.2" y="28.2" font-size="11.2" transform="rotate(-45 523.2 28.2)">48h</text>
<line x1="399.8" y1="35.2" x2="399.8" y2="295.5" stroke="#5c5c5c" stroke-width="1.6" />
<text x="0" y="0" font-size="11.8" transform="translate(393.4 165.2) scale(1.08 1) rotate(-90)" text-anchor="middle">Isd system</text>
<defs><linearGradient id="cba" x1="0" y1="0" x2="0" y2="1"><stop offset="0" stop-color="#fc2256"/><stop offset="0.5" stop-color="#ffffff"/><stop offset="1" stop-color="#0a22fc"/></linearGradient></defs>
<rect x="548.5" y="34.6" width="17" height="263.4" fill="url(#cba)" stroke="#111" stroke-width="1.3" />
<text x="570.1" y="38.56" font-size="11">40</text>
<line x1="548.5" y1="100.45" x2="551.5" y2="100.45" stroke="#111" stroke-width="1.4" />
<line x1="562.5" y1="100.45" x2="565.5" y2="100.45" stroke="#111" stroke-width="1.4" />
<line x1="548.5" y1="166.3" x2="551.5" y2="166.3" stroke="#111" stroke-width="1.4" />
<line x1="562.5" y1="166.3" x2="565.5" y2="166.3" stroke="#111" stroke-width="1.4" />
<text x="570.1" y="170.26" font-size="11">0</text>
<line x1="548.5" y1="232.15" x2="551.5" y2="232.15" stroke="#111" stroke-width="1.4" />
<line x1="562.5" y1="232.15" x2="565.5" y2="232.15" stroke="#111" stroke-width="1.4" />
<text x="570.1" y="236.11" font-size="11">-20</text>
<text x="570.1" y="301.96" font-size="11">-40</text>
<text x="552" y="30.8" font-size="10.4">Fold</text>
<text x="0" y="0" font-size="15.5" transform="translate(-1.21 342.24) scale(1.15 1)" stroke="#1a1a1a" stroke-width="0.35">b</text>
<rect x="59" y="365.4" width="35" height="26.2" fill="#fde1e0" />
<rect x="93.7" y="365.4" width="35" height="26.2" fill="#f25651" />
<rect x="128.4" y="365.4" width="35" height="26.2" fill="#ff2300" />
<rect x="59" y="391.3" width="35" height="26.2" fill="#fbccca" />
<rect x="93.7" y="391.3" width="35" height="26.2" fill="#f14a45" />
<rect x="128.4" y="391.3" width="35" height="26.2" fill="#ff2300" />
<rect x="59" y="417.2" width="35" height="26.2" fill="#fac3c2" />
<rect x="93.7" y="417.2" width="35" height="26.2" fill="#f46f6b" />
<rect x="128.4" y="417.2" width="35" height="26.2" fill="#ff2300" />
<rect x="59" y="443.1" width="35" height="26.2" fill="#fef6f6" />
<rect x="93.7" y="443.1" width="35" height="26.2" fill="#fffaf9" />
<rect x="128.4" y="443.1" width="35" height="26.2" fill="#eeeefe" />
<text x="76.35" y="381.23" font-size="8" text-anchor="middle" stroke="#222" stroke-width="0.12" fill="#222">6.0</text>
<text x="80.41" y="378" font-size="5.8" font-weight="bold" fill="#222">***</text>
<text x="111.05" y="381.23" font-size="8" text-anchor="middle" stroke="#222" stroke-width="0.12" fill="#222">33.9</text>
<text x="117.33" y="378" font-size="5.8" font-weight="bold" fill="#222">***</text>
<text x="145.75" y="381.23" font-size="8" text-anchor="middle" stroke="#222" stroke-width="0.12" fill="#222">59.3</text>
<text x="152.03" y="378" font-size="5.8" font-weight="bold" fill="#222">***</text>
<text x="53.9" y="382.45" font-size="10" text-anchor="end" font-style="italic">mntA</text>
<line x1="56" y1="378.35" x2="59" y2="378.35" stroke="#111" stroke-width="1.2" />
<text x="76.35" y="407.13" font-size="8" text-anchor="middle" stroke="#222" stroke-width="0.12" fill="#222">10.3</text>
<text x="82.63" y="403.9" font-size="5.8" font-weight="bold" fill="#222">***</text>
<text x="111.05" y="407.13" font-size="8" text-anchor="middle" stroke="#222" stroke-width="0.12" fill="#222">36.3</text>
<text x="117.33" y="403.9" font-size="5.8" font-weight="bold" fill="#222">***</text>
<text x="145.75" y="407.13" font-size="8" text-anchor="middle" stroke="#222" stroke-width="0.12" fill="#222">58.1</text>
<text x="152.03" y="403.9" font-size="5.8" font-weight="bold" fill="#222">***</text>
<text x="53.9" y="408.35" font-size="10" text-anchor="end" font-style="italic">mntB</text>
<line x1="56" y1="404.25" x2="59" y2="404.25" stroke="#111" stroke-width="1.2" />
<text x="76.35" y="433.03" font-size="8" text-anchor="middle" stroke="#222" stroke-width="0.12" fill="#222">12.0</text>
<text x="82.63" y="429.8" font-size="5.8" font-weight="bold" fill="#222">***</text>
<text x="111.05" y="433.03" font-size="8" text-anchor="middle" stroke="#222" stroke-width="0.12" fill="#222">28.9</text>
<text x="117.33" y="429.8" font-size="5.8" font-weight="bold" fill="#222">***</text>
<text x="145.75" y="433.03" font-size="8" text-anchor="middle" stroke="#222" stroke-width="0.12" fill="#222">52.8</text>
<text x="152.03" y="429.8" font-size="5.8" font-weight="bold" fill="#222">***</text>
<text x="53.9" y="434.25" font-size="10" text-anchor="end" font-style="italic">mntC</text>
<line x1="56" y1="430.15" x2="59" y2="430.15" stroke="#111" stroke-width="1.2" />
<text x="76.35" y="458.93" font-size="8" text-anchor="middle" stroke="#222" stroke-width="0.12" fill="#222">1.7</text>
<text x="111.05" y="458.93" font-size="8" text-anchor="middle" stroke="#222" stroke-width="0.12" fill="#222">1.1</text>
<text x="145.75" y="458.93" font-size="8" text-anchor="middle" stroke="#222" stroke-width="0.12" fill="#222">-3.0</text>
<text x="151.14" y="455.7" font-size="5.8" font-weight="bold" fill="#222">***</text>
<text x="53.9" y="460.15" font-size="10" text-anchor="end" font-style="italic">mntH</text>
<line x1="56" y1="456.05" x2="59" y2="456.05" stroke="#111" stroke-width="1.2" />
<rect x="59" y="365.4" width="104.1" height="103.6" fill="none" stroke="#111" stroke-width="1.5" />
<line x1="76.35" y1="362.9" x2="76.35" y2="365.4" stroke="#111" stroke-width="1.2" />
<text x="78.15" y="357.8" font-size="11.2" transform="rotate(-45 78.15 357.8)">6h</text>
<line x1="111.05" y1="362.9" x2="111.05" y2="365.4" stroke="#111" stroke-width="1.2" />
<text x="112.85" y="357.8" font-size="11.2" transform="rotate(-45 112.85 357.8)">24h</text>
<line x1="145.75" y1="362.9" x2="145.75" y2="365.4" stroke="#111" stroke-width="1.2" />
<text x="147.55" y="357.8" font-size="11.2" transform="rotate(-45 147.55 357.8)">48h</text>
<line x1="19" y1="368.5" x2="19" y2="474.3" stroke="#808080" stroke-width="1.9" />
<text x="0" y="0" font-size="11.8" transform="translate(11.8 421.3) scale(1.08 1) rotate(-90)" text-anchor="middle">Mn</text>
<rect x="59" y="495.2" width="35" height="28.4" fill="#fef4f4" />
<rect x="93.7" y="495.2" width="35" height="28.4" fill="#fef2f1" />
<rect x="128.4" y="495.2" width="35" height="28.4" fill="#fef8f8" />
<text x="76.35" y="512.06" font-size="7.8" text-anchor="middle" stroke="#222" stroke-width="0.12" fill="#222">2.2</text>
<text x="81.27" y="508.97" font-size="5.8" font-weight="bold" fill="#222">***</text>
<text x="111.05" y="512.06" font-size="7.8" text-anchor="middle" stroke="#222" stroke-width="0.12" fill="#222">2.7</text>
<text x="115.97" y="508.97" font-size="5.8" font-weight="bold" fill="#222">***</text>
<text x="145.75" y="512.06" font-size="7.8" text-anchor="middle" stroke="#222" stroke-width="0.12" fill="#222">1.4</text>
<text x="53.9" y="513.35" font-size="10" text-anchor="end" font-style="italic">copA</text>
<line x1="56" y1="509.25" x2="59" y2="509.25" stroke="#111" stroke-width="1.2" />
<rect x="59" y="495.2" width="104.1" height="28.1" fill="none" stroke="#111" stroke-width="1.5" />
<line x1="19" y1="498.9" x2="19" y2="523.2" stroke="#808080" stroke-width="1.9" />
<text x="0" y="0" font-size="11.8" transform="translate(12.1 512) scale(1.08 1) rotate(-90)" text-anchor="middle">Cu</text>
<rect x="59" y="547" width="35" height="26.3" fill="#f7f7ff" />
<rect x="93.7" y="547" width="35" height="26.3" fill="#f8f8ff" />
<rect x="128.4" y="547" width="35" height="26.3" fill="#fef6f5" />
<rect x="59" y="573" width="35" height="26.3" fill="#f5f5ff" />
<rect x="93.7" y="573" width="35" height="26.3" fill="#fff9f9" />
<rect x="128.4" y="573" width="35" height="26.3" fill="#fef8f7" />
<rect x="59" y="599" width="35" height="26.3" fill="#f7f7ff" />
<rect x="93.7" y="599" width="35" height="26.3" fill="#fff9f9" />
<rect x="128.4" y="599" width="35" height="26.3" fill="#fef8f8" />
<text x="76.35" y="562.81" font-size="7.8" text-anchor="middle" stroke="#222" stroke-width="0.12" fill="#222">-1.4</text>
<text x="111.05" y="562.81" font-size="7.8" text-anchor="middle" stroke="#222" stroke-width="0.12" fill="#222">-1.3</text>
<text x="145.75" y="562.81" font-size="7.8" text-anchor="middle" stroke="#222" stroke-width="0.12" fill="#222">1.9</text>
<text x="155.17" y="559.72" font-size="5.8" font-weight="bold" fill="#222">**</text>
<text x="53.9" y="564.1" font-size="10" text-anchor="end" font-style="italic">modA</text>
<line x1="56" y1="560" x2="59" y2="560" stroke="#111" stroke-width="1.2" />
<text x="76.35" y="588.81" font-size="7.8" text-anchor="middle" stroke="#222" stroke-width="0.12" fill="#222">-1.7</text>
<text x="111.05" y="588.81" font-size="7.8" text-anchor="middle" stroke="#222" stroke-width="0.12" fill="#222">1.2</text>
<text x="145.75" y="588.81" font-size="7.8" text-anchor="middle" stroke="#222" stroke-width="0.12" fill="#222">1.5</text>
<text x="53.9" y="590.1" font-size="10" text-anchor="end" font-style="italic">modB</text>
<line x1="56" y1="586" x2="59" y2="586" stroke="#111" stroke-width="1.2" />
<text x="76.35" y="614.81" font-size="7.8" text-anchor="middle" stroke="#222" stroke-width="0.12" fill="#222">-1.4</text>
<text x="111.05" y="614.81" font-size="7.8" text-anchor="middle" stroke="#222" stroke-width="0.12" fill="#222">1.2</text>
<text x="145.75" y="614.81" font-size="7.8" text-anchor="middle" stroke="#222" stroke-width="0.12" fill="#222">1.4</text>
<text x="53.9" y="616.1" font-size="10" text-anchor="end" font-style="italic">modC</text>
<line x1="56" y1="612" x2="59" y2="612" stroke="#111" stroke-width="1.2" />
<rect x="59" y="547" width="104.1" height="78" fill="none" stroke="#111" stroke-width="1.5" />
<line x1="19.1" y1="550" x2="19.1" y2="629.4" stroke="#808080" stroke-width="1.9" />
<text x="0" y="0" font-size="11.8" transform="translate(14 589.9) scale(1.08 1) rotate(-90)" text-anchor="middle">Mo</text>
<rect x="248.6" y="364.7" width="35.23" height="20.28" fill="#f9f9ff" />
<rect x="283.53" y="364.7" width="35.23" height="20.28" fill="#fedee6" />
<rect x="318.46" y="364.7" width="35.23" height="20.28" fill="#fc7493" />
<rect x="248.6" y="384.68" width="35.23" height="20.28" fill="#f3f3fe" />
<rect x="283.53" y="384.68" width="35.23" height="20.28" fill="#fedfe6" />
<rect x="318.46" y="384.68" width="35.23" height="20.28" fill="#fdacbe" />
<rect x="248.6" y="404.66" width="35.23" height="20.28" fill="#e7e7fe" />
<rect x="283.53" y="404.66" width="35.23" height="20.28" fill="#ffeff2" />
<rect x="318.46" y="404.66" width="35.23" height="20.28" fill="#fdaec0" />
<rect x="248.6" y="424.64" width="35.23" height="20.28" fill="#f4f4ff" />
<rect x="283.53" y="424.64" width="35.23" height="20.28" fill="#ffecf0" />
<rect x="318.46" y="424.64" width="35.23" height="20.28" fill="#fdacbf" />
<rect x="248.6" y="444.62" width="35.23" height="20.28" fill="#f8f8ff" />
<rect x="283.53" y="444.62" width="35.23" height="20.28" fill="#ffeef2" />
<rect x="318.46" y="444.62" width="35.23" height="20.28" fill="#fecbd7" />
<rect x="248.6" y="464.6" width="35.23" height="20.28" fill="#f5f5ff" />
<rect x="283.53" y="464.6" width="35.23" height="20.28" fill="#fee8ed" />
<rect x="318.46" y="464.6" width="35.23" height="20.28" fill="#fdb2c3" />
<rect x="248.6" y="484.58" width="35.23" height="20.28" fill="#ebebfe" />
<rect x="283.53" y="484.58" width="35.23" height="20.28" fill="#fecfd9" />
<rect x="318.46" y="484.58" width="35.23" height="20.28" fill="#fed0da" />
<rect x="248.6" y="504.56" width="35.23" height="20.28" fill="#fff9fa" />
<rect x="283.53" y="504.56" width="35.23" height="20.28" fill="#fecfd9" />
<rect x="318.46" y="504.56" width="35.23" height="20.28" fill="#fed2dc" />
<rect x="248.6" y="524.54" width="35.23" height="20.28" fill="#fff2f5" />
<rect x="283.53" y="524.54" width="35.23" height="20.28" fill="#fedbe3" />
<rect x="318.46" y="524.54" width="35.23" height="20.28" fill="#fec7d4" />
<text x="266.06" y="377.21" font-size="7" text-anchor="middle" stroke="#222" stroke-width="0.12" fill="#222">-1.0</text>
<text x="301" y="377.21" font-size="7" text-anchor="middle" stroke="#222" stroke-width="0.12" fill="#222">6.1</text>
<text x="305.89" y="374.49" font-size="5.8" font-weight="bold" fill="#222">***</text>
<text x="335.93" y="377.21" font-size="7" text-anchor="middle" stroke="#222" stroke-width="0.12" fill="#222">25.8</text>
<text x="341.82" y="374.49" font-size="5.8" font-weight="bold" fill="#222">***</text>
<text x="243.8" y="378.79" font-size="10" text-anchor="end" font-style="italic">cntA</text>
<line x1="245.6" y1="374.69" x2="248.6" y2="374.69" stroke="#111" stroke-width="1.2" />
<text x="266.06" y="397.19" font-size="7" text-anchor="middle" stroke="#222" stroke-width="0.12" fill="#222">-2.1</text>
<text x="301" y="397.19" font-size="7" text-anchor="middle" stroke="#222" stroke-width="0.12" fill="#222">5.9</text>
<text x="305.89" y="394.47" font-size="5.8" font-weight="bold" fill="#222">***</text>
<text x="335.93" y="397.19" font-size="7" text-anchor="middle" stroke="#222" stroke-width="0.12" fill="#222">15.5</text>
<text x="341.82" y="394.47" font-size="5.8" font-weight="bold" fill="#222">***</text>
<text x="243.8" y="398.77" font-size="10" text-anchor="end" font-style="italic">cntB</text>
<line x1="245.6" y1="394.67" x2="248.6" y2="394.67" stroke="#111" stroke-width="1.2" />
<text x="266.06" y="417.17" font-size="7" text-anchor="middle" stroke="#222" stroke-width="0.12" fill="#222">-4.2</text>
<text x="271.17" y="414.45" font-size="5.8" font-weight="bold" fill="#222">*</text>
<text x="301" y="417.17" font-size="7" text-anchor="middle" stroke="#222" stroke-width="0.12" fill="#222">3.0</text>
<text x="305.89" y="414.45" font-size="5.8" font-weight="bold" fill="#222">***</text>
<text x="335.93" y="417.17" font-size="7" text-anchor="middle" stroke="#222" stroke-width="0.12" fill="#222">15.1</text>
<text x="341.82" y="414.45" font-size="5.8" font-weight="bold" fill="#222">***</text>
<text x="243.8" y="418.75" font-size="10" text-anchor="end" font-style="italic">cntC</text>
<line x1="245.6" y1="414.65" x2="248.6" y2="414.65" stroke="#111" stroke-width="1.2" />
<text x="266.06" y="437.15" font-size="7" text-anchor="middle" stroke="#222" stroke-width="0.12" fill="#222">-1.9</text>
<text x="301" y="437.15" font-size="7" text-anchor="middle" stroke="#222" stroke-width="0.12" fill="#222">3.5</text>
<text x="305.89" y="434.43" font-size="5.8" font-weight="bold" fill="#222">***</text>
<text x="335.93" y="437.15" font-size="7" text-anchor="middle" stroke="#222" stroke-width="0.12" fill="#222">15.4</text>
<text x="341.82" y="434.43" font-size="5.8" font-weight="bold" fill="#222">***</text>
<text x="243.8" y="438.73" font-size="10" text-anchor="end" font-style="italic">cntD</text>
<line x1="245.6" y1="434.63" x2="248.6" y2="434.63" stroke="#111" stroke-width="1.2" />
<text x="266.06" y="457.13" font-size="7" text-anchor="middle" stroke="#222" stroke-width="0.12" fill="#222">-1.2</text>
<text x="301" y="457.13" font-size="7" text-anchor="middle" stroke="#222" stroke-width="0.12" fill="#222">3.1</text>
<text x="305.89" y="454.41" font-size="5.8" font-weight="bold" fill="#222">***</text>
<text x="335.93" y="457.13" font-size="7" text-anchor="middle" stroke="#222" stroke-width="0.12" fill="#222">9.6</text>
<text x="341.82" y="454.41" font-size="5.8" font-weight="bold" fill="#222">***</text>
<text x="243.8" y="458.71" font-size="10" text-anchor="end" font-style="italic">cntE</text>
<line x1="245.6" y1="454.61" x2="248.6" y2="454.61" stroke="#111" stroke-width="1.2" />
<text x="266.06" y="477.11" font-size="7" text-anchor="middle" stroke="#222" stroke-width="0.12" fill="#222">-1.7</text>
<text x="301" y="477.11" font-size="7" text-anchor="middle" stroke="#222" stroke-width="0.12" fill="#222">4.2</text>
<text x="305.89" y="474.39" font-size="5.8" font-weight="bold" fill="#222">***</text>
<text x="335.93" y="477.11" font-size="7" text-anchor="middle" stroke="#222" stroke-width="0.12" fill="#222">14.4</text>
<text x="341.82" y="474.39" font-size="5.8" font-weight="bold" fill="#222">***</text>
<text x="243.8" y="478.69" font-size="10" text-anchor="end" font-style="italic">cntF</text>
<line x1="245.6" y1="474.59" x2="248.6" y2="474.59" stroke="#111" stroke-width="1.2" />
<text x="266.06" y="497.09" font-size="7" text-anchor="middle" stroke="#222" stroke-width="0.12" fill="#222">-3.5</text>
<text x="301" y="497.09" font-size="7" text-anchor="middle" stroke="#222" stroke-width="0.12" fill="#222">9.0</text>
<text x="305.89" y="494.37" font-size="5.8" font-weight="bold" fill="#222">***</text>
<text x="335.93" y="497.09" font-size="7" text-anchor="middle" stroke="#222" stroke-width="0.12" fill="#222">8.8</text>
<text x="341.82" y="494.37" font-size="5.8" font-weight="bold" fill="#222">***</text>
<text x="243.8" y="498.67" font-size="10" text-anchor="end" font-style="italic">cntK</text>
<line x1="245.6" y1="494.57" x2="248.6" y2="494.57" stroke="#111" stroke-width="1.2" />
<text x="266.06" y="517.07" font-size="7" text-anchor="middle" stroke="#222" stroke-width="0.12" fill="#222">1.2</text>
<text x="301" y="517.07" font-size="7" text-anchor="middle" stroke="#222" stroke-width="0.12" fill="#222">9.0</text>
<text x="305.89" y="514.35" font-size="5.8" font-weight="bold" fill="#222">***</text>
<text x="335.93" y="517.07" font-size="7" text-anchor="middle" stroke="#222" stroke-width="0.12" fill="#222">8.4</text>
<text x="341.82" y="514.35" font-size="5.8" font-weight="bold" fill="#222">***</text>
<text x="243.8" y="518.65" font-size="10" text-anchor="end" font-style="italic">cntL</text>
<line x1="245.6" y1="514.55" x2="248.6" y2="514.55" stroke="#111" stroke-width="1.2" />
<text x="266.06" y="537.05" font-size="7" text-anchor="middle" stroke="#222" stroke-width="0.12" fill="#222">2.4</text>
<text x="271.17" y="534.33" font-size="5.8" font-weight="bold" fill="#222">*</text>
<text x="301" y="537.05" font-size="7" text-anchor="middle" stroke="#222" stroke-width="0.12" fill="#222">6.7</text>
<text x="305.89" y="534.33" font-size="5.8" font-weight="bold" fill="#222">***</text>
<text x="335.93" y="537.05" font-size="7" text-anchor="middle" stroke="#222" stroke-width="0.12" fill="#222">10.4</text>
<text x="341.82" y="534.33" font-size="5.8" font-weight="bold" fill="#222">***</text>
<text x="243.8" y="538.63" font-size="10" text-anchor="end" font-style="italic">cntM</text>
<line x1="245.6" y1="534.53" x2="248.6" y2="534.53" stroke="#111" stroke-width="1.2" />
<rect x="248.6" y="364.7" width="104.79" height="179.82" fill="none" stroke="#111" stroke-width="1.5" />
<line x1="266.06" y1="362.2" x2="266.06" y2="364.7" stroke="#111" stroke-width="1.2" />
<text x="268.87" y="357.3" font-size="11.2" transform="rotate(-45 268.87 357.3)">6h</text>
<line x1="301" y1="362.2" x2="301" y2="364.7" stroke="#111" stroke-width="1.2" />
<text x="303.8" y="357.3" font-size="11.2" transform="rotate(-45 303.8 357.3)">24h</text>
<line x1="335.93" y1="362.2" x2="335.93" y2="364.7" stroke="#111" stroke-width="1.2" />
<text x="338.73" y="357.3" font-size="11.2" transform="rotate(-45 338.73 357.3)">48h</text>
<line x1="212.8" y1="364" x2="212.8" y2="545.6" stroke="#333" stroke-width="1.4" />
<text x="0" y="0" font-size="11.8" transform="translate(204.6 453) scale(1.08 1) rotate(-90)" text-anchor="middle">Staphylopine (Cu, Ni, Co, Zn, Fe)</text>
<rect x="248.6" y="563.8" width="35.23" height="21.5" fill="#f9f9ff" />
<rect x="283.53" y="563.8" width="35.23" height="21.5" fill="#f8f8ff" />
<rect x="318.46" y="563.8" width="35.23" height="21.5" fill="#f8f8ff" />
<text x="266.06" y="576.92" font-size="7" text-anchor="middle" stroke="#222" stroke-width="0.12" fill="#222">-1.1</text>
<text x="301" y="576.92" font-size="7" text-anchor="middle" stroke="#222" stroke-width="0.12" fill="#222">-1.3</text>
<text x="335.93" y="576.92" font-size="7" text-anchor="middle" stroke="#222" stroke-width="0.12" fill="#222">-1.3</text>
<text x="243.8" y="578.5" font-size="10" text-anchor="end" font-style="italic">mgtE</text>
<line x1="245.6" y1="574.4" x2="248.6" y2="574.4" stroke="#111" stroke-width="1.2" />
<rect x="248.6" y="563.8" width="104.79" height="21.2" fill="none" stroke="#111" stroke-width="1.5" />
<line x1="212.5" y1="564.4" x2="212.5" y2="588.2" stroke="#333" stroke-width="1.4" />
<text x="0" y="0" font-size="11.8" transform="translate(205.2 575.7) scale(1.08 1) rotate(-90)" text-anchor="middle">Mg</text>
<rect x="248.6" y="604.2" width="35.23" height="21.3" fill="#ffecf0" />
<rect x="283.53" y="604.2" width="35.23" height="21.3" fill="#ffebf0" />
<rect x="318.46" y="604.2" width="35.23" height="21.3" fill="#f2f3fe" />
<text x="266.06" y="617.22" font-size="7" text-anchor="middle" stroke="#222" stroke-width="0.12" fill="#222">3.5</text>
<text x="270.96" y="614.4" font-size="5.8" font-weight="bold" fill="#222">***</text>
<text x="301" y="617.22" font-size="7" text-anchor="middle" stroke="#222" stroke-width="0.12" fill="#222">3.7</text>
<text x="305.89" y="614.4" font-size="5.8" font-weight="bold" fill="#222">***</text>
<text x="335.93" y="617.22" font-size="7" text-anchor="middle" stroke="#222" stroke-width="0.12" fill="#222">-2.2</text>
<text x="341.82" y="614.4" font-size="5.8" font-weight="bold" fill="#222">***</text>
<text x="243.8" y="618.8" font-size="10" text-anchor="end" font-style="italic">cobI</text>
<line x1="245.6" y1="614.7" x2="248.6" y2="614.7" stroke="#111" stroke-width="1.2" />
<rect x="248.6" y="604.2" width="104.79" height="21" fill="none" stroke="#111" stroke-width="1.5" />
<line x1="212.5" y1="603.1" x2="212.5" y2="627.1" stroke="#333" stroke-width="1.4" />
<text x="0" y="0" font-size="11.8" transform="translate(205.3 614.8) scale(1.08 1) rotate(-90)" text-anchor="middle">Co</text>
<defs><linearGradient id="cbb" x1="0" y1="0" x2="0" y2="1"><stop offset="0" stop-color="#fc2256"/><stop offset="0.5" stop-color="#ffffff"/><stop offset="1" stop-color="#0a22fc"/></linearGradient></defs>
<rect x="364.6" y="365.5" width="17" height="261" fill="url(#cbb)" stroke="#111" stroke-width="1.3" />
<text x="387.8" y="369.53" font-size="11.2">40</text>
<line x1="364.6" y1="430.75" x2="367.6" y2="430.75" stroke="#111" stroke-width="1.4" />
<line x1="378.6" y1="430.75" x2="381.6" y2="430.75" stroke="#111" stroke-width="1.4" />
<text x="387.8" y="434.78" font-size="11.2">20</text>
<line x1="364.6" y1="496" x2="367.6" y2="496" stroke="#111" stroke-width="1.4" />
<line x1="378.6" y1="496" x2="381.6" y2="496" stroke="#111" stroke-width="1.4" />
<text x="387.8" y="500.03" font-size="11.2">0</text>
<line x1="364.6" y1="561.25" x2="367.6" y2="561.25" stroke="#111" stroke-width="1.4" />
<line x1="378.6" y1="561.25" x2="381.6" y2="561.25" stroke="#111" stroke-width="1.4" />
<text x="387.8" y="565.28" font-size="11.2">-20</text>
<text x="387.8" y="630.53" font-size="11.2">-40</text>
<text x="367.9" y="360.2" font-size="10.8">Fold</text>
<text x="0" y="0" font-size="14.55" transform="translate(415.35 342.95) scale(1.2 1)" stroke="#1a1a1a" stroke-width="0.35">c</text>
<line x1="426" y1="378.3" x2="673.8" y2="378.3" stroke="#111" stroke-width="1.1" />
<polygon points="426.5,360.3 478.5,360.3 486,368 478.5,375.7 426.5,375.7" fill="#fff" stroke="#222" stroke-width="0.9" stroke-linejoin="miter"/>
<polygon points="508,368 515.8,360.3 546.6,360.3 546.6,375.7 515.8,375.7" fill="#000" stroke="#000" stroke-width="0.9" stroke-linejoin="miter"/>
<polygon points="546.6,368 554.2,360.3 584.5,360.3 584.5,375.7 554.2,375.7" fill="#000" stroke="#000" stroke-width="0.9" stroke-linejoin="miter"/>
<polygon points="584.5,368 591.9,360.3 622.1,360.3 622.1,375.7 591.9,375.7" fill="#000" stroke="#000" stroke-width="0.9" stroke-linejoin="miter"/>
<polygon points="627.5,360.3 658.5,360.3 666.2,368 658.5,375.7 627.5,375.7" fill="#fff" stroke="#222" stroke-width="0.9" stroke-linejoin="miter"/>
<text x="440.3" y="358" font-size="12.3" font-style="italic" textLength="26.7" lengthAdjust="spacingAndGlyphs">0600</text>
<text x="515.6" y="356.8" font-size="12.3" font-style="italic" textLength="28.4" lengthAdjust="spacingAndGlyphs">mntC</text>
<text x="553" y="356.8" font-size="12.3" font-style="italic" textLength="27" lengthAdjust="spacingAndGlyphs">mntB</text>
<text x="589.7" y="356.8" font-size="12.3" font-style="italic" textLength="27.6" lengthAdjust="spacingAndGlyphs">mntA</text>
<text x="628.5" y="356.8" font-size="12.3" font-style="italic" textLength="27.9" lengthAdjust="spacingAndGlyphs">mntR</text>
<text x="0" y="0" font-size="14.9" transform="translate(-0.37 665.55) scale(1.15 1)" stroke="#1a1a1a" stroke-width="0.35">e</text>
<line x1="40.3" y1="707.9" x2="612.4" y2="707.9" stroke="#111" stroke-width="1.1" />
<polygon points="39,688.6 65,688.6 73.2,697.1 65,705.6 39,705.6" fill="#fff" stroke="#222" stroke-width="0.9" stroke-linejoin="miter"/>
<polygon points="76,697.1 84.2,688.6 129.8,688.6 129.8,705.6 84.2,705.6" fill="#000" stroke="#000" stroke-width="0.9" stroke-linejoin="miter"/>
<polygon points="129.8,697.1 138.4,688.6 162,688.6 162,705.6 138.4,705.6" fill="#000" stroke="#000" stroke-width="0.9" stroke-linejoin="miter"/>
<polygon points="162,697.1 171.2,688.6 197.5,688.6 197.5,705.6 171.2,705.6" fill="#000" stroke="#000" stroke-width="0.9" stroke-linejoin="miter"/>
<polygon points="197.5,697.1 206.7,688.6 234.3,688.6 234.3,705.6 206.7,705.6" fill="#000" stroke="#000" stroke-width="0.9" stroke-linejoin="miter"/>
<polygon points="234.3,697.1 243.5,688.6 273.6,688.6 273.6,705.6 243.5,705.6" fill="#000" stroke="#000" stroke-width="0.9" stroke-linejoin="miter"/>
<polygon points="274.5,697.1 284,688.6 346.1,688.6 346.1,705.6 284,705.6" fill="#000" stroke="#000" stroke-width="0.9" stroke-linejoin="miter"/>
<polygon points="360.5,697.1 370.1,688.6 418.5,688.6 418.5,705.6 370.1,705.6" fill="#808080" stroke="#333" stroke-width="0.9" stroke-linejoin="miter"/>
<polygon points="418.5,697.1 425.4,688.6 452.8,688.6 452.8,705.6 425.4,705.6" fill="#808080" stroke="#333" stroke-width="0.9" stroke-linejoin="miter"/>
<polygon points="453.6,697.1 464.3,688.6 489.4,688.6 489.4,705.6 464.3,705.6" fill="#808080" stroke="#333" stroke-width="0.9" stroke-linejoin="miter"/>
<polygon points="568,697.1 577.7,688.6 605.6,688.6 605.6,705.6 577.7,705.6" fill="#fff" stroke="#333" stroke-width="0.9" stroke-linejoin="miter"/>
<text x="36.4" y="683.8" font-size="12.6" font-style="italic" textLength="29.4" lengthAdjust="spacingAndGlyphs">2358</text>
<text x="92.5" y="683.8" font-size="12.6" font-style="italic" textLength="26" lengthAdjust="spacingAndGlyphs">cntE</text>
<text x="131.8" y="683.8" font-size="12.6" font-style="italic" textLength="27.1" lengthAdjust="spacingAndGlyphs">cntF</text>
<text x="167.3" y="683.8" font-size="12.6" font-style="italic" textLength="27.6" lengthAdjust="spacingAndGlyphs">cntD</text>
<text x="202.8" y="683.8" font-size="12.6" font-style="italic" textLength="27" lengthAdjust="spacingAndGlyphs">cntC</text>
<text x="243" y="683.8" font-size="12.6" font-style="italic" textLength="26.2" lengthAdjust="spacingAndGlyphs">cntB</text>
<text x="297.9" y="683.8" font-size="12.6" font-style="italic" textLength="25.7" lengthAdjust="spacingAndGlyphs">cntA</text>
<text x="381.4" y="683.8" font-size="12.6" font-style="italic" textLength="27.9" lengthAdjust="spacingAndGlyphs">cntM</text>
<text x="423.8" y="683.8" font-size="12.6" font-style="italic" textLength="23.4" lengthAdjust="spacingAndGlyphs">cntL</text>
<text x="462.2" y="683.8" font-size="12.6" font-style="italic" textLength="26.1" lengthAdjust="spacingAndGlyphs">cntK</text>
<text x="575.9" y="683.8" font-size="12.6" font-style="italic" textLength="30.4" lengthAdjust="spacingAndGlyphs">2369</text>
<text x="0" y="0" font-size="13.9" transform="translate(414.74 438.66) scale(1.15 1)" stroke="#1a1a1a" stroke-width="0.35">d</text>
<path d="M468 462H585.63" fill="none" stroke="#000" stroke-width="2" stroke-dasharray="6 3"/>
<path d="M585.63 462V484.88" fill="none" stroke="#000" stroke-width="2" stroke-dasharray="6 3"/>
<path d="M585.63 484.88H641.77" fill="none" stroke="#000" stroke-width="2" stroke-dasharray="6 3"/>
<path d="M641.77 484.88V507.62" fill="none" stroke="#000" stroke-width="2" stroke-dasharray="6 3"/>
<path d="M641.77 507.62H672.72" fill="none" stroke="#000" stroke-width="2" stroke-dasharray="6 3"/>
<path d="M672.72 507.62V507.62" fill="none" stroke="#000" stroke-width="2" stroke-dasharray="6 3"/>
<line x1="666.12" y1="507.62" x2="666.12" y2="504.62" stroke="#000" stroke-width="1.5" />
<path d="M468 462 H502.26 V484.88 H538.17 V576.12 H547.66 V599" fill="none" stroke="#000" stroke-width="2" stroke-linejoin="miter"/>
<line x1="468" y1="461" x2="468" y2="600" stroke="#000" stroke-width="2" />
<line x1="467" y1="599" x2="674.88" y2="599" stroke="#000" stroke-width="2" />
<line x1="460" y1="599" x2="468" y2="599" stroke="#000" stroke-width="2" />
<text x="457.2" y="603.7" font-size="13.3" text-anchor="end">0</text>
<line x1="460" y1="571.6" x2="468" y2="571.6" stroke="#000" stroke-width="2" />
<text x="457.2" y="576.3" font-size="13.3" text-anchor="end">20</text>
<line x1="460" y1="544.2" x2="468" y2="544.2" stroke="#000" stroke-width="2" />
<text x="457.2" y="548.9" font-size="13.3" text-anchor="end">40</text>
<line x1="460" y1="516.8" x2="468" y2="516.8" stroke="#000" stroke-width="2" />
<text x="457.2" y="521.5" font-size="13.3" text-anchor="end">60</text>
<line x1="460" y1="489.4" x2="468" y2="489.4" stroke="#000" stroke-width="2" />
<text x="457.2" y="494.1" font-size="13.3" text-anchor="end">80</text>
<line x1="460" y1="462" x2="468" y2="462" stroke="#000" stroke-width="2" />
<text x="457.2" y="466.7" font-size="13.3" text-anchor="end">100</text>
<line x1="468" y1="599" x2="468" y2="606.5" stroke="#000" stroke-width="2" />
<text x="468" y="621.5" font-size="13.3" text-anchor="middle">0</text>
<line x1="509.27" y1="599" x2="509.27" y2="606.5" stroke="#000" stroke-width="2" />
<text x="509.27" y="621.5" font-size="13.3" text-anchor="middle">50</text>
<line x1="550.55" y1="599" x2="550.55" y2="606.5" stroke="#000" stroke-width="2" />
<text x="550.55" y="621.5" font-size="13.3" text-anchor="middle">100</text>
<line x1="591.83" y1="599" x2="591.83" y2="606.5" stroke="#000" stroke-width="2" />
<text x="591.83" y="621.5" font-size="13.3" text-anchor="middle">150</text>
<line x1="633.1" y1="599" x2="633.1" y2="606.5" stroke="#000" stroke-width="2" />
<text x="633.1" y="621.5" font-size="13.3" text-anchor="middle">200</text>
<line x1="674.38" y1="599" x2="674.38" y2="606.5" stroke="#000" stroke-width="2" />
<text x="674.38" y="621.5" font-size="13.3" text-anchor="middle">250</text>
<text x="425.8" y="527.5" font-size="14.2" text-anchor="middle" transform="rotate(-90 425.8 527.5)">Survival (%)</text>
<text x="571.69" y="643" font-size="14" text-anchor="middle">Time (h.p.i.)</text>
<line x1="585.1" y1="532.8" x2="605.1" y2="532.8" stroke="#000" stroke-width="2" />
<line x1="595.1" y1="530.5" x2="595.1" y2="532.8" stroke="#000" stroke-width="1.2" />
<line x1="585.1" y1="557.4" x2="605.1" y2="557.4" stroke="#000" stroke-width="2" stroke-dasharray="6 3"/>
<line x1="595.1" y1="555.1" x2="595.1" y2="557.4" stroke="#000" stroke-width="1.2" />
<text x="0" y="0" font-size="13.3" transform="translate(615.3 537.3) scale(1.05 1)">Wild type</text>
<text x="0" y="0" font-size="14" transform="translate(615.1 562) scale(1.08 1)"><tspan>Δ</tspan><tspan font-style="italic">mntA</tspan></text>
<text x="0" y="0" font-size="16.3" transform="translate(49.66 743.5) scale(1.2 1)" stroke="#1a1a1a" stroke-width="0.35">f</text>
<path d="M107.4 750.1H262.61" fill="none" stroke="#000" stroke-width="2" stroke-dasharray="6 3"/>
<path d="M262.61 750.1V762.67" fill="none" stroke="#000" stroke-width="2" stroke-dasharray="6 3"/>
<path d="M262.61 762.67H286.11" fill="none" stroke="#000" stroke-width="2" stroke-dasharray="6 3"/>
<path d="M286.11 762.67V784.62" fill="none" stroke="#000" stroke-width="2" stroke-dasharray="6 3"/>
<path d="M286.11 784.62H304.14" fill="none" stroke="#000" stroke-width="2" stroke-dasharray="6 3"/>
<path d="M304.14 784.62V796.09" fill="none" stroke="#000" stroke-width="2" stroke-dasharray="6 3"/>
<path d="M304.14 796.09H313.98" fill="none" stroke="#000" stroke-width="2" stroke-dasharray="6 3"/>
<path d="M313.98 796.09V796.09" fill="none" stroke="#000" stroke-width="2" stroke-dasharray="6 3"/>
<path d="M107.4 750.1 H136.91 V762.67 H153.31 V775.23 H165.33 V825.36 H200.31 V875.63 H212.33 V888.2" fill="none" stroke="#000" stroke-width="2" stroke-linejoin="miter"/>
<line x1="107.4" y1="749.1" x2="107.4" y2="889.2" stroke="#000" stroke-width="2" />
<line x1="106.4" y1="888.2" x2="315.57" y2="888.2" stroke="#000" stroke-width="2" />
<line x1="99.4" y1="888.2" x2="107.4" y2="888.2" stroke="#000" stroke-width="2" />
<text x="96.6" y="892.9" font-size="13.3" text-anchor="end">0</text>
<line x1="99.4" y1="860.58" x2="107.4" y2="860.58" stroke="#000" stroke-width="2" />
<text x="96.6" y="865.28" font-size="13.3" text-anchor="end">20</text>
<line x1="99.4" y1="832.96" x2="107.4" y2="832.96" stroke="#000" stroke-width="2" />
<text x="96.6" y="837.66" font-size="13.3" text-anchor="end">40</text>
<line x1="99.4" y1="805.34" x2="107.4" y2="805.34" stroke="#000" stroke-width="2" />
<text x="96.6" y="810.04" font-size="13.3" text-anchor="end">60</text>
<line x1="99.4" y1="777.72" x2="107.4" y2="777.72" stroke="#000" stroke-width="2" />
<text x="96.6" y="782.42" font-size="13.3" text-anchor="end">80</text>
<line x1="99.4" y1="750.1" x2="107.4" y2="750.1" stroke="#000" stroke-width="2" />
<text x="96.6" y="754.8" font-size="13.3" text-anchor="end">100</text>
<line x1="107.4" y1="888.2" x2="107.4" y2="895.7" stroke="#000" stroke-width="2" />
<text x="107.4" y="910.7" font-size="13.3" text-anchor="middle">0</text>
<line x1="162.05" y1="888.2" x2="162.05" y2="895.7" stroke="#000" stroke-width="2" />
<text x="162.05" y="910.7" font-size="13.3" text-anchor="middle">50</text>
<line x1="216.7" y1="888.2" x2="216.7" y2="895.7" stroke="#000" stroke-width="2" />
<text x="216.7" y="910.7" font-size="13.3" text-anchor="middle">100</text>
<line x1="271.35" y1="888.2" x2="271.35" y2="895.7" stroke="#000" stroke-width="2" />
<text x="271.35" y="910.7" font-size="13.3" text-anchor="middle">150</text>
<text x="65.2" y="816.15" font-size="14.2" text-anchor="middle" transform="rotate(-90 65.2 816.15)">Survival (%)</text>
<text x="211.74" y="932.2" font-size="14" text-anchor="middle">Time (h.p.i.)</text>
<line x1="255.1" y1="844.2" x2="275.1" y2="844.2" stroke="#000" stroke-width="2" />
<line x1="265.1" y1="841.9" x2="265.1" y2="844.2" stroke="#000" stroke-width="1.2" />
<line x1="255.1" y1="869.4" x2="275.1" y2="869.4" stroke="#000" stroke-width="2" stroke-dasharray="6 3"/>
<line x1="265.1" y1="867.1" x2="265.1" y2="869.4" stroke="#000" stroke-width="1.2" />
<text x="0" y="0" font-size="13.3" transform="translate(285.3 848.7) scale(1.05 1)">Wild type</text>
<text x="0" y="0" font-size="14" transform="translate(285.1 874) scale(1.08 1)"><tspan>Δ</tspan><tspan font-style="italic">cntE</tspan></text>
<text x="0" y="0" font-size="16.5" transform="translate(343.44 742.93) scale(1.15 1)" stroke="#1a1a1a" stroke-width="0.35">g</text>
<path d="M411.2 749.8H510.8" fill="none" stroke="#000" stroke-width="2" stroke-dasharray="6 3"/>
<path d="M510.8 749.8V761.26" fill="none" stroke="#000" stroke-width="2" stroke-dasharray="6 3"/>
<path d="M510.8 761.26H533.21" fill="none" stroke="#000" stroke-width="2" stroke-dasharray="6 3"/>
<path d="M533.21 761.26V807.39" fill="none" stroke="#000" stroke-width="2" stroke-dasharray="6 3"/>
<path d="M533.21 807.39H543.38" fill="none" stroke="#000" stroke-width="2" stroke-dasharray="6 3"/>
<path d="M543.38 807.39V830.31" fill="none" stroke="#000" stroke-width="2" stroke-dasharray="6 3"/>
<path d="M543.38 830.31H548.57" fill="none" stroke="#000" stroke-width="2" stroke-dasharray="6 3"/>
<path d="M548.57 830.31V853.38" fill="none" stroke="#000" stroke-width="2" stroke-dasharray="6 3"/>
<path d="M548.57 853.38H573.47" fill="none" stroke="#000" stroke-width="2" stroke-dasharray="6 3"/>
<path d="M573.47 853.38V887.9" fill="none" stroke="#000" stroke-width="2" stroke-dasharray="6 3"/>
<line x1="559.56" y1="853.38" x2="559.56" y2="850.38" stroke="#000" stroke-width="1.5" />
<path d="M411.2 749.8 H454.26 V772.86 H499.18 V864.84 H511.32 V887.9" fill="none" stroke="#000" stroke-width="2" stroke-linejoin="miter"/>
<line x1="411.2" y1="748.8" x2="411.2" y2="888.9" stroke="#000" stroke-width="2" />
<line x1="410.2" y1="887.9" x2="619.2" y2="887.9" stroke="#000" stroke-width="2" />
<line x1="403.2" y1="887.9" x2="411.2" y2="887.9" stroke="#000" stroke-width="2" />
<text x="400.4" y="892.6" font-size="13.3" text-anchor="end">0</text>
<line x1="403.2" y1="860.28" x2="411.2" y2="860.28" stroke="#000" stroke-width="2" />
<text x="400.4" y="864.98" font-size="13.3" text-anchor="end">20</text>
<line x1="403.2" y1="832.66" x2="411.2" y2="832.66" stroke="#000" stroke-width="2" />
<text x="400.4" y="837.36" font-size="13.3" text-anchor="end">40</text>
<line x1="403.2" y1="805.04" x2="411.2" y2="805.04" stroke="#000" stroke-width="2" />
<text x="400.4" y="809.74" font-size="13.3" text-anchor="end">60</text>
<line x1="403.2" y1="777.42" x2="411.2" y2="777.42" stroke="#000" stroke-width="2" />
<text x="400.4" y="782.12" font-size="13.3" text-anchor="end">80</text>
<line x1="403.2" y1="749.8" x2="411.2" y2="749.8" stroke="#000" stroke-width="2" />
<text x="400.4" y="754.5" font-size="13.3" text-anchor="end">100</text>
<line x1="411.2" y1="887.9" x2="411.2" y2="895.4" stroke="#000" stroke-width="2" />
<text x="411.2" y="910.4" font-size="13.3" text-anchor="middle">0</text>
<line x1="463.07" y1="887.9" x2="463.07" y2="895.4" stroke="#000" stroke-width="2" />
<text x="463.07" y="910.4" font-size="13.3" text-anchor="middle">50</text>
<line x1="514.95" y1="887.9" x2="514.95" y2="895.4" stroke="#000" stroke-width="2" />
<text x="514.95" y="910.4" font-size="13.3" text-anchor="middle">100</text>
<line x1="566.83" y1="887.9" x2="566.83" y2="895.4" stroke="#000" stroke-width="2" />
<text x="566.83" y="910.4" font-size="13.3" text-anchor="middle">150</text>
<line x1="618.7" y1="887.9" x2="618.7" y2="895.4" stroke="#000" stroke-width="2" />
<text x="618.7" y="910.4" font-size="13.3" text-anchor="middle">200</text>
<text x="369" y="815.85" font-size="14.2" text-anchor="middle" transform="rotate(-90 369 815.85)">Survival (%)</text>
<text x="515.45" y="931.9" font-size="14" text-anchor="middle">Time (h.p.i.)</text>
<line x1="567.6" y1="774" x2="587.6" y2="774" stroke="#000" stroke-width="2" />
<line x1="577.6" y1="771.7" x2="577.6" y2="774" stroke="#000" stroke-width="1.2" />
<line x1="567.6" y1="799.7" x2="587.6" y2="799.7" stroke="#000" stroke-width="2" stroke-dasharray="6 3"/>
<line x1="577.6" y1="797.4" x2="577.6" y2="799.7" stroke="#000" stroke-width="1.2" />
<text x="0" y="0" font-size="13.3" transform="translate(597.8 778.5) scale(1.05 1)">Wild type</text>
<text x="0" y="0" font-size="14" transform="translate(597.6 804.3) scale(1.08 1)"><tspan font-style="italic">ΔcntK</tspan></text>
</svg>
</body></html>
